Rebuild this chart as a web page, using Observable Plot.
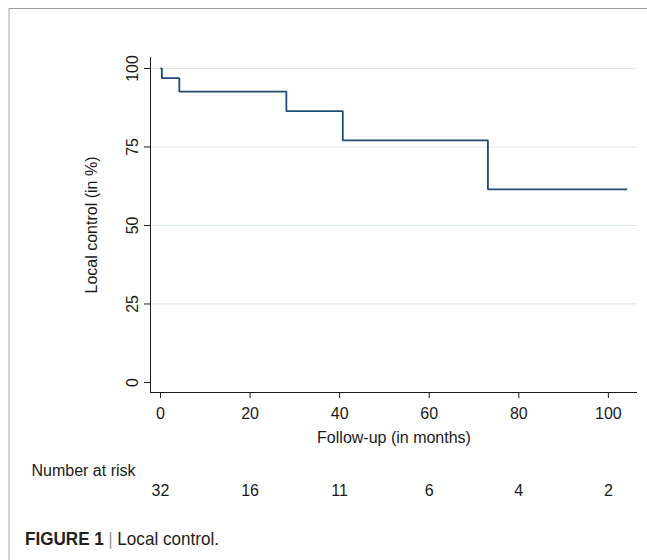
<!DOCTYPE html>
<html>
<head>
<meta charset="utf-8">
<script src="https://cdn.jsdelivr.net/npm/d3@7"></script>
<script src="https://cdn.jsdelivr.net/npm/@observablehq/plot@0.6"></script>
<style>
  html, body { margin: 0; padding: 0; background: #fff; }
  body { width: 647px; height: 560px; position: relative; overflow: hidden;
         font-family: "Liberation Sans", Arial, Helvetica, sans-serif; }
  #chart { position: absolute; left: 0; top: 0; }
  #frame { position: absolute; left: 8px; top: 8px; width: 639px; height: 552px;
           border-top: 1px solid #9d9d9d; border-left: 2px solid #d2d2d2;
           box-sizing: border-box; pointer-events: none; z-index: 2; }
  #caption { position: absolute; left: 25px; top: 529px; font-size: 19px; line-height: 19px;
             color: #231f20; white-space: nowrap; transform: scaleX(0.9); transform-origin: 0 0; }
  #caption b { font-weight: bold; }
  #caption .sep { color: #9a9a9a; padding: 0 5px; }
</style>
</head>
<body>
<div id="chart"></div>
<div id="frame"></div>
<div id="caption"><b>FIGURE 1</b><span class="sep">|</span>Local control.</div>
<script>
// Kaplan–Meier step points (months, % local control)
const months = [0, 0.3, 4.2, 28.1, 40.7, 73.1, 104.2];
const localControl = [100, 96.9, 92.6, 86.4, 77.1, 61.5, 61.5];

// Axis ticks
const xTicks = [0, 20, 40, 60, 80, 100];
const yTicks = [0, 25, 50, 75, 100];
const gridTicks = [25, 50, 75, 100];

// Number at risk table
const riskMonths = [0, 20, 40, 60, 80, 100];
const riskCounts = [32, 16, 11, 6, 4, 2];

const km = months.map((m, i) => ({month: m, pct: localControl[i]}));
const risk = riskMonths.map((m, i) => ({month: m, n: riskCounts[i]}));

const xDomain = [-2.23, 106.5];
const yDomain = [-3.2, 103.5];

const font = '"Liberation Sans", Arial, Helvetica, sans-serif';

const chart = Plot.plot({
  width: 647,
  height: 520,
  marginTop: 57,
  marginLeft: 150,
  marginRight: 10,
  marginBottom: 128,
  style: {fontFamily: font, fontSize: "16px", color: "#1a1a1a", background: "transparent", overflow: "visible"},
  x: {domain: xDomain},
  y: {domain: yDomain},
  marks: [
    Plot.gridY(gridTicks, {stroke: "#dde8ea", strokeOpacity: 1, strokeWidth: 1}),
    Plot.ruleX([xDomain[0]], {stroke: "#1a1a1a", strokeWidth: 1}),
    Plot.ruleY([yDomain[0]], {stroke: "#1a1a1a", strokeWidth: 1}),
    Plot.axisY(yTicks, {
      tickSize: 6, tickPadding: 6.5, tickRotate: -90,
      textAnchor: "middle", lineAnchor: "bottom",
      label: null, fontSize: 16
    }),
    Plot.axisX(xTicks, {
      tickSize: 6, tickPadding: 9, label: null, fontSize: 16
    }),
    Plot.line(km, {
      x: "month", y: "pct", curve: "step-after",
      stroke: "#1f4a74", strokeWidth: 1.8, strokeLinejoin: "miter", strokeLinecap: "butt"
    }),
    Plot.text(["Follow-up (in months)"], {
      frameAnchor: "bottom", dy: 50, lineAnchor: "bottom", textAnchor: "middle", fontSize: 16
    }),
    Plot.text(["Local control (in %)"], {
      frameAnchor: "left", rotate: -90, dx: -53.5, lineAnchor: "bottom", textAnchor: "middle", fontSize: 16
    }),
    Plot.text(["Number at risk"], {
      frameAnchor: "bottom-left", dx: -119, dy: 83.7, textAnchor: "start", lineAnchor: "bottom", fontSize: 16
    }),
    Plot.text(risk, {
      x: "month", text: "n", frameAnchor: "bottom", dy: 103,
      textAnchor: "middle", lineAnchor: "bottom", fontSize: 16
    })
  ]
});
document.getElementById("chart").appendChild(chart);
</script>
</body>
</html>
